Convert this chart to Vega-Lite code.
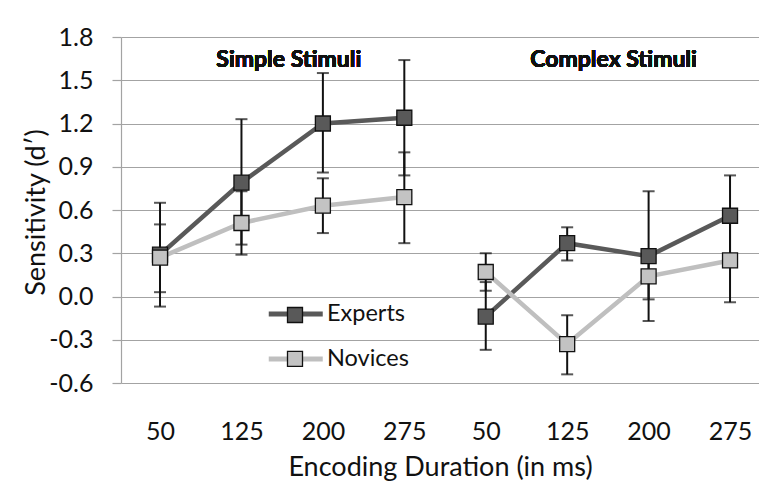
{
  "$schema": "https://vega.github.io/schema/vega-lite/v6.json",
  "width": 638,
  "height": 346,
  "autosize": {"type": "none"},
  "padding": {"left": 121, "top": 37, "right": 0, "bottom": 101},
  "background": "white",
  "config": {
    "view": {"stroke": null},
    "font": "Lato",
    "axis": {"labelFont": "Lato", "titleFont": "Lato", "labelColor": "#111", "titleColor": "#111", "titleFontWeight": "normal"},
    "legend": {"labelFont": "Lato", "labelColor": "#111"}
  },
  "data": {
    "values": [
      {"cond": "S-50", "stimuli": "Simple", "group": "Experts", "mean": 0.29, "lo": -0.07, "hi": 0.65},
      {"cond": "S-125", "stimuli": "Simple", "group": "Experts", "mean": 0.79, "lo": 0.36, "hi": 1.23},
      {"cond": "S-200", "stimuli": "Simple", "group": "Experts", "mean": 1.2, "lo": 0.86, "hi": 1.55},
      {"cond": "S-275", "stimuli": "Simple", "group": "Experts", "mean": 1.24, "lo": 0.84, "hi": 1.64},
      {"cond": "C-50", "stimuli": "Complex", "group": "Experts", "mean": -0.14, "lo": -0.37, "hi": 0.1},
      {"cond": "C-125", "stimuli": "Complex", "group": "Experts", "mean": 0.37, "lo": 0.25, "hi": 0.48},
      {"cond": "C-200", "stimuli": "Complex", "group": "Experts", "mean": 0.28, "lo": -0.17, "hi": 0.73},
      {"cond": "C-275", "stimuli": "Complex", "group": "Experts", "mean": 0.56, "lo": 0.28, "hi": 0.84},
      {"cond": "S-50", "stimuli": "Simple", "group": "Novices", "mean": 0.27, "lo": 0.03, "hi": 0.5},
      {"cond": "S-125", "stimuli": "Simple", "group": "Novices", "mean": 0.51, "lo": 0.29, "hi": 0.73},
      {"cond": "S-200", "stimuli": "Simple", "group": "Novices", "mean": 0.63, "lo": 0.44, "hi": 0.82},
      {"cond": "S-275", "stimuli": "Simple", "group": "Novices", "mean": 0.69, "lo": 0.37, "hi": 1.0},
      {"cond": "C-50", "stimuli": "Complex", "group": "Novices", "mean": 0.17, "lo": 0.04, "hi": 0.3},
      {"cond": "C-125", "stimuli": "Complex", "group": "Novices", "mean": -0.33, "lo": -0.54, "hi": -0.13},
      {"cond": "C-200", "stimuli": "Complex", "group": "Novices", "mean": 0.14, "lo": -0.02, "hi": 0.3},
      {"cond": "C-275", "stimuli": "Complex", "group": "Novices", "mean": 0.25, "lo": -0.04, "hi": 0.52}
    ]
  },
  "encoding": {
    "x": {
      "field": "cond",
      "type": "nominal",
      "sort": ["S-50", "S-125", "S-200", "S-275", "C-50", "C-125", "C-200", "C-275"],
      "scale": {"type": "point", "padding": 0.4175, "align": 0.574},
      "axis": {
        "title": "Encoding Duration (in ms)",
        "labelExpr": "split(datum.label, '-')[1]",
        "labelAngle": 0,
        "labelFontSize": 25,
        "labelBaseline": "alphabetic",
        "labelPadding": 56,
        "ticks": false,
        "tickSize": 0,
        "domain": false,
        "grid": false,
        "titleFontSize": 27,
        "titleBaseline": "alphabetic",
        "titleY": 92
      }
    }
  },
  "layer": [
    {
      "mark": {"type": "rule", "color": "#111", "strokeWidth": 2},
      "encoding": {
        "y": {
          "field": "lo",
          "type": "quantitative",
          "scale": {"domain": [-0.6, 1.8], "nice": false, "zero": false},
          "axis": {
            "title": "Sensitivity (d′)",
            "values": [-0.6, -0.3, 0, 0.3, 0.6, 0.9, 1.2, 1.5, 1.8],
            "labelExpr": "replace(format(datum.value, '.1f'), '−', '-')",
            "grid": true,
            "gridColor": "#a3a3a3",
            "gridWidth": 1.2,
            "domainColor": "#a3a3a3",
            "domainWidth": 1.2,
            "tickColor": "#a3a3a3",
            "tickWidth": 1.2,
            "tickSize": 9,
            "labelFontSize": 25,
            "labelPadding": 19,
            "titleFontSize": 27,
            "titleX": -85,
            "titleY": 175,
            "titleAngle": -90,
            "titleAlign": "center",
            "titleBaseline": "middle"
          }
        },
        "y2": {"field": "hi"}
      }
    },
    {
      "mark": {"type": "tick", "color": "#111", "size": 12, "thickness": 2},
      "encoding": {"y": {"field": "lo", "type": "quantitative"}}
    },
    {
      "mark": {"type": "tick", "color": "#111", "size": 12, "thickness": 2},
      "encoding": {"y": {"field": "hi", "type": "quantitative"}}
    },
    {
      "mark": {"type": "line", "strokeWidth": 4.5},
      "encoding": {
        "y": {"field": "mean", "type": "quantitative"},
        "detail": {"field": "stimuli"},
        "stroke": {
          "field": "group",
          "type": "nominal",
          "scale": {"domain": ["Experts", "Novices"], "range": ["#595959", "#bfbfbf"]},
          "legend": {
            "orient": "none",
            "legendX": 163,
            "legendY": 265.3,
            "direction": "vertical",
            "title": null,
            "padding": 0,
            "rowPadding": 19.9,
            "labelFontSize": 23.5,
            "labelOffset": 19.5,
            "symbolType": "M-5.4,0H5.4",
            "symbolSize": 100,
            "symbolStrokeWidth": 5
          }
        }
      }
    },
    {
      "mark": {"type": "point", "shape": "square", "size": 225, "filled": true, "stroke": "#111", "strokeWidth": 1.3, "opacity": 1},
      "encoding": {
        "y": {"field": "mean", "type": "quantitative"},
        "fill": {
          "field": "group",
          "type": "nominal",
          "scale": {"range": ["#595959", "#c3c3c3"]},
          "legend": {
            "orient": "none",
            "legendX": 165.5,
            "legendY": 269.5,
            "direction": "vertical",
            "title": null,
            "padding": 0,
            "rowPadding": 22.9,
            "labelExpr": "''",
            "labelFontSize": 1,
            "symbolType": "square",
            "symbolSize": 225,
            "symbolStrokeColor": "#111",
            "symbolStrokeWidth": 1.3,
            "symbolOpacity": 1
          }
        }
      }
    },
    {
      "mark": {"type": "text", "text": "Simple Stimuli", "font": "Lato", "fontWeight": "bold", "fontSize": 23, "color": "#111", "dx": -34, "baseline": "middle"},
      "encoding": {"x": {"datum": "S-200"}, "y": {"datum": 1.64}}
    },
    {
      "mark": {"type": "text", "text": "Complex Stimuli", "font": "Lato", "fontWeight": "bold", "fontSize": 23, "color": "#111", "dx": -35, "baseline": "middle"},
      "encoding": {"x": {"datum": "C-200"}, "y": {"datum": 1.64}}
    }
  ]
}
